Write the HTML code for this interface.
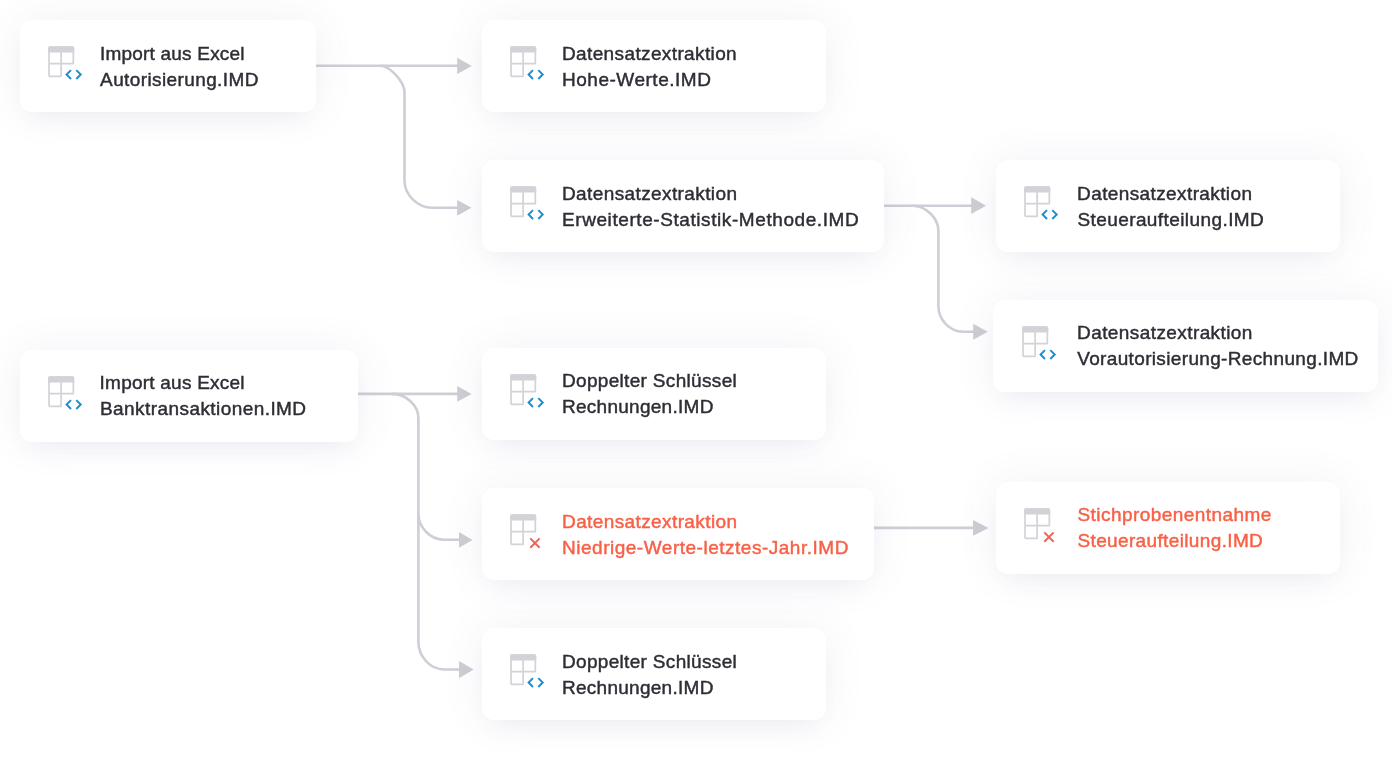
<!DOCTYPE html>
<html><head><meta charset="utf-8"><title>Diagram</title>
<style>
html,body{margin:0;padding:0;background:#fff;}
body{width:1392px;height:784px;position:relative;overflow:hidden;font-family:"Liberation Sans",sans-serif;}
.card{position:absolute;background:#fff;border-radius:12px;box-shadow:0 14px 26px -11px rgba(95,80,135,0.075),0 0 42px rgba(108,92,145,0.085);}
.card .ic{position:absolute;}
#txt{position:absolute;left:0;top:0;width:1392px;height:784px;will-change:transform;}
.t{position:absolute;-webkit-text-stroke:0.45px currentColor;font-size:19px;line-height:22px;height:22px;color:#2d2e35;white-space:nowrap;}
.t.err{color:#f96046;}
svg.wires{position:absolute;left:0;top:0;}
</style></head><body>
<svg class="wires" width="1392" height="784" viewBox="0 0 1392 784">
<g fill="none" stroke="#cecfd6" stroke-width="2.6">
<path d="M316 65.8 H460"/>
<path d="M380 65.8 C390 65.8 404.5 82 404.5 92 V181 C404.5 195 418 207.8 432 207.8 H460"/>
<path d="M884 205.8 H975"/>
<path d="M912 205.8 C926 205.8 938.4 218 938.4 231 V306 C938.4 320 950 331.7 963 331.7 H976"/>
<path d="M358 393.9 H460"/>
<path d="M392 393.9 C406 393.9 418.4 405.5 418.4 418 V642 C418.4 656 430 669.5 444 669.5 H462"/>
<path d="M418.4 514 C418.4 527 430 539.7 444 539.7 H462"/>
<path d="M874 527.9 H976"/>
</g>
<path d="M457.2 57.8 L471.8 65.9 L457.2 74 Z" fill="#cdcdd3"/>
<path d="M457.2 199.9 L471.5 207.8 L457.2 215.7 Z" fill="#cdcdd3"/>
<path d="M971.2 197.3 L986 205.7 L971.2 214.1 Z" fill="#cdcdd3"/>
<path d="M973.2 323.7 L987.8 331.7 L973.2 339.7 Z" fill="#cdcdd3"/>
<path d="M457.2 386 L471.5 393.9 L457.2 401.8 Z" fill="#cdcdd3"/>
<path d="M459 532.1 L472.5 539.9 L459 547.7 Z" fill="#cdcdd3"/>
<path d="M459 660.9 L473.6 669.6 L459 678.3 Z" fill="#cdcdd3"/>
<path d="M973 520.1 L988.5 527.9 L973 535.7 Z" fill="#cdcdd3"/>
</svg>
<div class="card" style="left:20px;top:20px;width:296px;height:92px"><svg class="ic" style="left:28.00px;top:24.00px" width="40" height="40" viewBox="0 0 40 40"><path d="M0.2 4 Q0.2 2.2 2 2.2 H24.4 Q26.2 2.2 26.2 4 V8.6 H0.2 Z" fill="#d2d2d8"/><path d="M1.05 4 Q1.05 3.05 2 3.05 H24.4 Q25.35 3.05 25.35 4 V19.6 H13.1 V32.3 H2 Q1.05 32.3 1.05 31.35 Z M1.05 19.6 H13.1 V8" fill="none" stroke="#d2d2d8" stroke-width="1.7" stroke-linejoin="round"/><path d="M23 26.15 L18.6 30.55 L23 34.95 M28.3 26.15 L32.7 30.55 L28.3 34.95" stroke="#1a90d2" stroke-width="2" fill="none" stroke-linejoin="miter"/></svg></div>
<div class="card" style="left:482px;top:20px;width:344px;height:92px"><svg class="ic" style="left:28.00px;top:24.00px" width="40" height="40" viewBox="0 0 40 40"><path d="M0.2 4 Q0.2 2.2 2 2.2 H24.4 Q26.2 2.2 26.2 4 V8.6 H0.2 Z" fill="#d2d2d8"/><path d="M1.05 4 Q1.05 3.05 2 3.05 H24.4 Q25.35 3.05 25.35 4 V19.6 H13.1 V32.3 H2 Q1.05 32.3 1.05 31.35 Z M1.05 19.6 H13.1 V8" fill="none" stroke="#d2d2d8" stroke-width="1.7" stroke-linejoin="round"/><path d="M23 26.15 L18.6 30.55 L23 34.95 M28.3 26.15 L32.7 30.55 L28.3 34.95" stroke="#1a90d2" stroke-width="2" fill="none" stroke-linejoin="miter"/></svg></div>
<div class="card" style="left:482px;top:160.2px;width:402px;height:91.8px"><svg class="ic" style="left:28.00px;top:23.80px" width="40" height="40" viewBox="0 0 40 40"><path d="M0.2 4 Q0.2 2.2 2 2.2 H24.4 Q26.2 2.2 26.2 4 V8.6 H0.2 Z" fill="#d2d2d8"/><path d="M1.05 4 Q1.05 3.05 2 3.05 H24.4 Q25.35 3.05 25.35 4 V19.6 H13.1 V32.3 H2 Q1.05 32.3 1.05 31.35 Z M1.05 19.6 H13.1 V8" fill="none" stroke="#d2d2d8" stroke-width="1.7" stroke-linejoin="round"/><path d="M23 26.15 L18.6 30.55 L23 34.95 M28.3 26.15 L32.7 30.55 L28.3 34.95" stroke="#1a90d2" stroke-width="2" fill="none" stroke-linejoin="miter"/></svg></div>
<div class="card" style="left:996px;top:160.2px;width:344px;height:91.8px"><svg class="ic" style="left:28.00px;top:23.80px" width="40" height="40" viewBox="0 0 40 40"><path d="M0.2 4 Q0.2 2.2 2 2.2 H24.4 Q26.2 2.2 26.2 4 V8.6 H0.2 Z" fill="#d2d2d8"/><path d="M1.05 4 Q1.05 3.05 2 3.05 H24.4 Q25.35 3.05 25.35 4 V19.6 H13.1 V32.3 H2 Q1.05 32.3 1.05 31.35 Z M1.05 19.6 H13.1 V8" fill="none" stroke="#d2d2d8" stroke-width="1.7" stroke-linejoin="round"/><path d="M23 26.15 L18.6 30.55 L23 34.95 M28.3 26.15 L32.7 30.55 L28.3 34.95" stroke="#1a90d2" stroke-width="2" fill="none" stroke-linejoin="miter"/></svg></div>
<div class="card" style="left:993.4px;top:299.9px;width:384.9px;height:92px"><svg class="ic" style="left:28.60px;top:24.20px" width="40" height="40" viewBox="0 0 40 40"><path d="M0.2 4 Q0.2 2.2 2 2.2 H24.4 Q26.2 2.2 26.2 4 V8.6 H0.2 Z" fill="#d2d2d8"/><path d="M1.05 4 Q1.05 3.05 2 3.05 H24.4 Q25.35 3.05 25.35 4 V19.6 H13.1 V32.3 H2 Q1.05 32.3 1.05 31.35 Z M1.05 19.6 H13.1 V8" fill="none" stroke="#d2d2d8" stroke-width="1.7" stroke-linejoin="round"/><path d="M23 26.15 L18.6 30.55 L23 34.95 M28.3 26.15 L32.7 30.55 L28.3 34.95" stroke="#1a90d2" stroke-width="2" fill="none" stroke-linejoin="miter"/></svg></div>
<div class="card" style="left:20.3px;top:350px;width:337.7px;height:92px"><svg class="ic" style="left:27.70px;top:24.00px" width="40" height="40" viewBox="0 0 40 40"><path d="M0.2 4 Q0.2 2.2 2 2.2 H24.4 Q26.2 2.2 26.2 4 V8.6 H0.2 Z" fill="#d2d2d8"/><path d="M1.05 4 Q1.05 3.05 2 3.05 H24.4 Q25.35 3.05 25.35 4 V19.6 H13.1 V32.3 H2 Q1.05 32.3 1.05 31.35 Z M1.05 19.6 H13.1 V8" fill="none" stroke="#d2d2d8" stroke-width="1.7" stroke-linejoin="round"/><path d="M23 26.15 L18.6 30.55 L23 34.95 M28.3 26.15 L32.7 30.55 L28.3 34.95" stroke="#1a90d2" stroke-width="2" fill="none" stroke-linejoin="miter"/></svg></div>
<div class="card" style="left:482px;top:348.2px;width:344px;height:92px"><svg class="ic" style="left:28.00px;top:23.90px" width="40" height="40" viewBox="0 0 40 40"><path d="M0.2 4 Q0.2 2.2 2 2.2 H24.4 Q26.2 2.2 26.2 4 V8.6 H0.2 Z" fill="#d2d2d8"/><path d="M1.05 4 Q1.05 3.05 2 3.05 H24.4 Q25.35 3.05 25.35 4 V19.6 H13.1 V32.3 H2 Q1.05 32.3 1.05 31.35 Z M1.05 19.6 H13.1 V8" fill="none" stroke="#d2d2d8" stroke-width="1.7" stroke-linejoin="round"/><path d="M23 26.15 L18.6 30.55 L23 34.95 M28.3 26.15 L32.7 30.55 L28.3 34.95" stroke="#1a90d2" stroke-width="2" fill="none" stroke-linejoin="miter"/></svg></div>
<div class="card" style="left:482px;top:488.3px;width:392px;height:91.8px"><svg class="ic" style="left:28.00px;top:23.70px" width="40" height="40" viewBox="0 0 40 40"><path d="M0.2 4 Q0.2 2.2 2 2.2 H24.4 Q26.2 2.2 26.2 4 V8.6 H0.2 Z" fill="#d2d2d8"/><path d="M1.05 4 Q1.05 3.05 2 3.05 H24.4 Q25.35 3.05 25.35 4 V19.6 H13.1 V32.3 H2 Q1.05 32.3 1.05 31.35 Z M1.05 19.6 H13.1 V8" fill="none" stroke="#d2d2d8" stroke-width="1.7" stroke-linejoin="round"/><path d="M20.3 26.4 L29.6 35.8 M29.6 26.4 L20.3 35.8" stroke="#e9655b" stroke-width="2" fill="none"/></svg></div>
<div class="card" style="left:996.2px;top:482.2px;width:343.7px;height:92px"><svg class="ic" style="left:27.80px;top:23.80px" width="40" height="40" viewBox="0 0 40 40"><path d="M0.2 4 Q0.2 2.2 2 2.2 H24.4 Q26.2 2.2 26.2 4 V8.6 H0.2 Z" fill="#d2d2d8"/><path d="M1.05 4 Q1.05 3.05 2 3.05 H24.4 Q25.35 3.05 25.35 4 V19.6 H13.1 V32.3 H2 Q1.05 32.3 1.05 31.35 Z M1.05 19.6 H13.1 V8" fill="none" stroke="#d2d2d8" stroke-width="1.7" stroke-linejoin="round"/><path d="M20.3 26.4 L29.6 35.8 M29.6 26.4 L20.3 35.8" stroke="#e9655b" stroke-width="2" fill="none"/></svg></div>
<div class="card" style="left:482px;top:627.8px;width:344px;height:92px"><svg class="ic" style="left:28.00px;top:24.30px" width="40" height="40" viewBox="0 0 40 40"><path d="M0.2 4 Q0.2 2.2 2 2.2 H24.4 Q26.2 2.2 26.2 4 V8.6 H0.2 Z" fill="#d2d2d8"/><path d="M1.05 4 Q1.05 3.05 2 3.05 H24.4 Q25.35 3.05 25.35 4 V19.6 H13.1 V32.3 H2 Q1.05 32.3 1.05 31.35 Z M1.05 19.6 H13.1 V8" fill="none" stroke="#d2d2d8" stroke-width="1.7" stroke-linejoin="round"/><path d="M23 26.15 L18.6 30.55 L23 34.95 M28.3 26.15 L32.7 30.55 L28.3 34.95" stroke="#1a90d2" stroke-width="2" fill="none" stroke-linejoin="miter"/></svg></div>
<div id="txt">
<div class="t" id="t0_0" style="left:99.91px;top:43.00px;letter-spacing:0.211px">Import aus Excel</div>
<div class="t" id="t0_1" style="left:100.09px;top:69.00px;letter-spacing:0.392px">Autorisierung.IMD</div>
<div class="t" id="t1_0" style="left:561.98px;top:43.00px;letter-spacing:0.377px">Datensatzextraktion</div>
<div class="t" id="t1_1" style="left:561.98px;top:69.00px;letter-spacing:0.519px">Hohe-Werte.IMD</div>
<div class="t" id="t2_0" style="left:561.98px;top:183.00px;letter-spacing:0.396px">Datensatzextraktion</div>
<div class="t" id="t2_1" style="left:561.98px;top:209.00px;letter-spacing:0.580px">Erweiterte-Statistik-Methode.IMD</div>
<div class="t" id="t3_0" style="left:1077.07px;top:183.00px;letter-spacing:0.390px">Datensatzextraktion</div>
<div class="t" id="t3_1" style="left:1077.43px;top:209.00px;letter-spacing:0.415px">Steueraufteilung.IMD</div>
<div class="t" id="t4_0" style="left:1077.07px;top:322.00px;letter-spacing:0.412px">Datensatzextraktion</div>
<div class="t" id="t4_1" style="left:1077.21px;top:348.00px;letter-spacing:0.347px">Vorautorisierung-Rechnung.IMD</div>
<div class="t" id="t5_0" style="left:99.57px;top:372.00px;letter-spacing:0.230px">Import aus Excel</div>
<div class="t" id="t5_1" style="left:99.98px;top:398.00px;letter-spacing:0.432px">Banktransaktionen.IMD</div>
<div class="t" id="t6_0" style="left:561.98px;top:370.00px;letter-spacing:0.322px">Doppelter Schlüssel</div>
<div class="t" id="t6_1" style="left:561.98px;top:396.00px;letter-spacing:0.271px">Rechnungen.IMD</div>
<div class="t err" id="t7_0" style="left:562.03px;top:511.00px;letter-spacing:0.395px">Datensatzextraktion</div>
<div class="t err" id="t7_1" style="left:562.02px;top:537.00px;letter-spacing:0.512px">Niedrige-Werte-letztes-Jahr.IMD</div>
<div class="t err" id="t8_0" style="left:1077.48px;top:504.00px;letter-spacing:0.437px">Stichprobenentnahme</div>
<div class="t err" id="t8_1" style="left:1077.48px;top:530.00px;letter-spacing:0.361px">Steueraufteilung.IMD</div>
<div class="t" id="t9_0" style="left:561.98px;top:651.00px;letter-spacing:0.322px">Doppelter Schlüssel</div>
<div class="t" id="t9_1" style="left:561.98px;top:677.00px;letter-spacing:0.271px">Rechnungen.IMD</div>
</div>
</body></html>
